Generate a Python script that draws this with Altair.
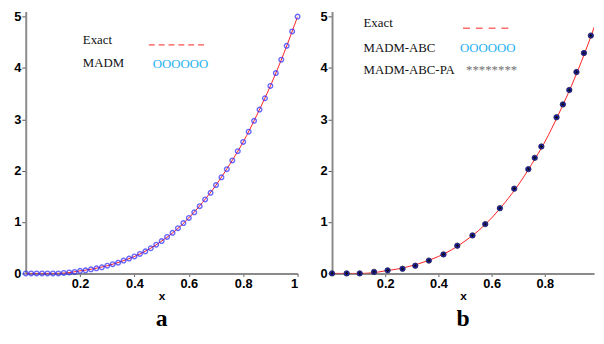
import altair as alt
import pandas as pd

# Panel a: MADM points
xa = [0.00, 0.02, 0.04, 0.06, 0.08, 0.10, 0.12, 0.14, 0.16, 0.18,
      0.20, 0.22, 0.24, 0.26, 0.28, 0.30, 0.32, 0.34, 0.36, 0.38,
      0.40, 0.42, 0.44, 0.46, 0.48, 0.50, 0.52, 0.54, 0.56, 0.58,
      0.60, 0.62, 0.64, 0.66, 0.68, 0.70, 0.72, 0.74, 0.76, 0.78,
      0.80, 0.82, 0.84, 0.86, 0.88, 0.90, 0.92, 0.94, 0.96, 0.98, 1.00]
ya = [0.00, 0.00, 0.00, 0.00, 0.00, 0.00, 0.00, 0.01, 0.02, 0.03,
      0.05, 0.06, 0.08, 0.10, 0.12, 0.15, 0.18, 0.21, 0.25, 0.29,
      0.33, 0.38, 0.43, 0.49, 0.56, 0.63, 0.71, 0.79, 0.88, 0.98,
      1.08, 1.19, 1.31, 1.44, 1.57, 1.72, 1.87, 2.03, 2.20, 2.38,
      2.56, 2.76, 2.97, 3.19, 3.41, 3.65, 3.90, 4.16, 4.43, 4.71, 5.00]

# Exact solution curve
exact_x = [0.00, 0.05, 0.10, 0.15, 0.20, 0.25, 0.30, 0.35, 0.40, 0.45, 0.50,
           0.55, 0.60, 0.65, 0.70, 0.75, 0.80, 0.85, 0.90, 0.95, 1.00]
exact_y = [0.00, 0.00, 0.00, 0.01, 0.05, 0.09, 0.15, 0.23, 0.33, 0.46, 0.63,
           0.83, 1.08, 1.38, 1.72, 2.12, 2.56, 3.08, 3.65, 4.29, 5.00]

# Panel b: MADM-ABC / MADM-ABC-PA points
xb = [0.000, 0.055, 0.104, 0.158, 0.209, 0.265, 0.313, 0.364, 0.419, 0.471,
      0.528, 0.576, 0.631, 0.685, 0.738, 0.762, 0.787, 0.844, 0.868, 0.892,
      0.919, 0.947, 0.973]
yb = [0.00, 0.00, 0.00, 0.03, 0.06, 0.09, 0.15, 0.25, 0.37, 0.54,
      0.74, 0.96, 1.27, 1.65, 2.03, 2.25, 2.47, 3.04, 3.29, 3.57,
      3.92, 4.29, 4.63]

df_a = pd.DataFrame({"x": xa, "y": ya})
df_e = pd.DataFrame({"x": exact_x, "y": exact_y})
df_b = pd.DataFrame({"x": xb, "y": yb})

SERIF = "Liberation Serif"
AX_FONT = "Liberation Sans"
H = 266


def panel(letter, xmax, xvals, w, h, point_layers, legend_layers):
    xs = alt.Scale(domain=[0, xmax], nice=False, zero=True)
    ys = alt.Scale(domain=[0, 5.1], nice=False)
    xax = alt.Axis(values=xvals, title="x", format="~g")
    yax = alt.Axis(values=[0, 1, 2, 3, 4, 5], title=None, format="d")
    line = alt.Chart(df_e).mark_line(color="#ff2020", strokeWidth=1,
                                     interpolate="monotone", clip=True).encode(
        x=alt.X("x:Q", scale=xs, axis=xax),
        y=alt.Y("y:Q", scale=ys, axis=yax),
    )
    lab = alt.Chart(pd.DataFrame({"t": [letter]})).mark_text(
        font=SERIF, fontSize=24, fontWeight="bold", color="black",
        baseline="alphabetic", align="center").encode(
        text="t:N", x=alt.value(w / 2), y=alt.value(h + 53))
    return alt.layer(line, *point_layers, *legend_layers, lab).properties(
        width=w, height=h)


def legend_text(txt, x, y, color="#111111", size=13):
    return alt.Chart(pd.DataFrame({"t": [txt]})).mark_text(
        font=SERIF, fontSize=size, color=color, align="left",
        baseline="middle").encode(text="t:N", x=alt.value(x), y=alt.value(y))


def legend_dash(x1, x2, y, dash):
    return alt.Chart(pd.DataFrame({"t": [0]})).mark_rule(
        color="#ff2020", strokeWidth=1, strokeDash=dash).encode(
        x=alt.value(x1), x2=alt.value(x2), y=alt.value(y))


WA = 276
pts_a = alt.Chart(df_a).mark_point(shape="circle", filled=False,
                                   color="#2a2aff", strokeWidth=1.4,
                                   size=22).encode(x="x:Q", y="y:Q")
leg_a = [
    legend_text("Exact", 58, 29),
    legend_dash(125, 183, 34, [6, 4]),
    legend_text("MADM", 58, 52),
    legend_text("OOOOOO", 129, 53, color="#1fb0f0"),
]
chart_a = panel("a", 1.0, [0.2, 0.4, 0.6, 0.8, 1], WA, H, [pts_a], leg_a)

WB = 266
pts_b1 = alt.Chart(df_b).mark_point(shape="circle", filled=True,
                                    fill="#2020c8", stroke="#222244",
                                    strokeWidth=0.8, opacity=1,
                                    size=30).encode(x="x:Q", y="y:Q")
pts_b2 = alt.Chart(df_b).mark_point(shape="cross", filled=True,
                                    color="#111111", opacity=1,
                                    size=10).encode(x="x:Q", y="y:Q")
leg_b = [
    legend_text("Exact", 32, 12),
    legend_dash(133, 182, 17, [7, 6]),
    legend_text("MADM-ABC", 32, 37),
    legend_text("OOOOOO", 130, 37, color="#1fb0f0"),
    legend_text("MADM-ABC-PA", 32, 60),
    legend_text("********", 136, 60, color="#707070"),
]
chart_b = panel("b", 0.985, [0.2, 0.4, 0.6, 0.8], WB, H, [pts_b1, pts_b2], leg_b)

chart = alt.hconcat(chart_a, chart_b, spacing=16).properties(
    padding={"left": 5, "top": 0, "right": 0, "bottom": 0}
).configure_view(stroke=None).configure_axis(
    domainColor="#8a8a8a", domainWidth=2, tickColor="#555555", tickWidth=1,
    tickSize=4, labelFont=AX_FONT, labelFontWeight="bold", labelFontSize=13,
    labelColor="black", labelPadding=1, grid=False,
    titleFont=AX_FONT, titleFontWeight="bold", titleFontSize=12,
    titleColor="black", titlePadding=0,
).configure_axisX(labelPadding=1, tickSize=3)

chart.save("out.html", embed_options={"renderer": "svg", "actions": False})
